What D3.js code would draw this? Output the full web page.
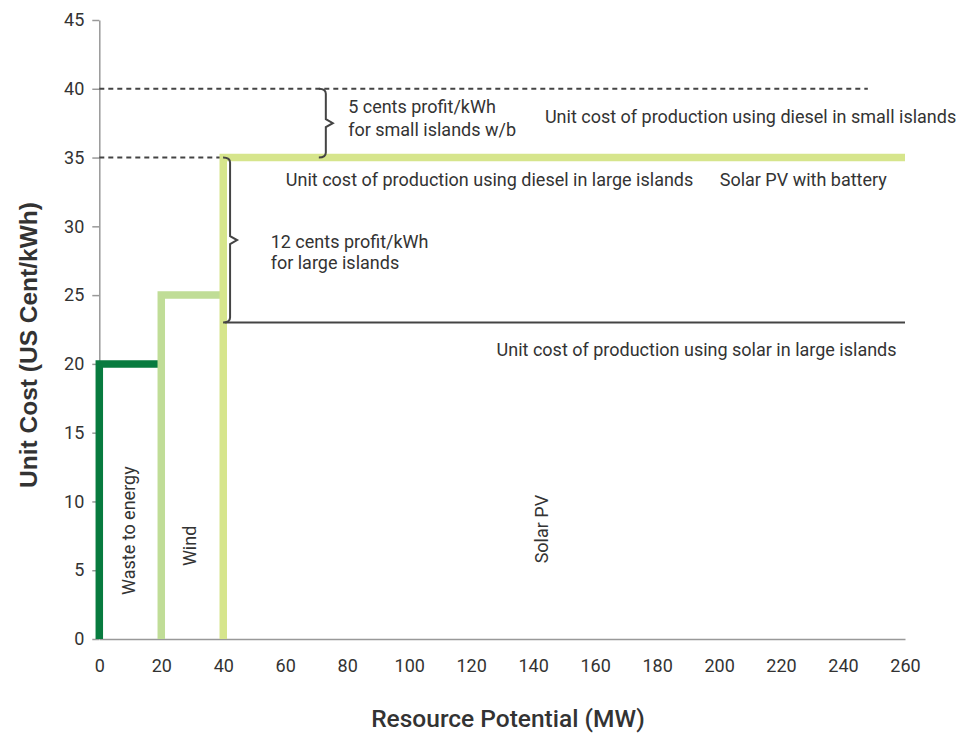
<!DOCTYPE html>
<meta charset="utf-8">
<title>Unit cost vs resource potential</title>
<style>
body {
  margin: 0px;
  background: #fff;
}
text {
  font-family: Roboto, sans-serif;
  fill: #333;
}
.axis .domain {
  stroke: #999;
  stroke-width: 1.5px;
}
.axis line {
  stroke: #999;
  stroke-width: 1.5px;
}
.axis text {
  font-size: 18px;
  fill: #333;
}
.note {
  font-size: 18px;
}
</style>
<body>
<script src="https://cdnjs.cloudflare.com/ajax/libs/d3/7.8.5/d3.min.js"></script>
<script>
var width = 959, height = 735;

// tick values
var xTicks = d3.range(0, 261, 20);
var yTicks = d3.range(0, 46, 5);

// supply steps (MW, cents/kWh)
var wasteLine = [[0, 0], [0, 20], [20, 20]];
var windLine = [[20, 0], [20, 25], [40, 25]];
var solarLine = [[40, 0], [40, 35], [260, 35]];

// reference costs
var solarLargeLine = [[40.5, 23], [260, 23]];
var dieselSmallLine = [[0, 40], [248, 40]];
var dieselLargeLine = [[0, 35], [40, 35]];

// braces: x position, bottom and top value
var braces = [
  {x: 73.1, y0: 35, y1: 40},
  {x: 42.2, y0: 23, y1: 35}
];

// annotation labels [x, y, text]
var notes = [
  [80.3, 38.24, "5 cents profit/kWh"],
  [80.3, 36.57, "for small islands w/b"],
  [143.8, 37.51, "Unit cost of production using diesel in small islands"],
  [60.2, 32.93, "Unit cost of production using diesel in large islands"],
  [200.2, 32.93, "Solar PV with battery"],
  [55.3, 28.42, "12 cents profit/kWh"],
  [55.3, 26.9, "for large islands"],
  [128.2, 20.57, "Unit cost of production using solar in large islands"]
];
// vertical labels [x, y, text]
var sideNotes = [
  [11.5, 3.2, "Waste to energy"],
  [31.2, 5.3, "Wind"],
  [144.7, 5.5, "Solar PV"]
];

var svg = d3.select("body").append("svg")
    .attr("width", width)
    .attr("height", height);

var x = d3.scaleLinear().domain([0, 260]).range([99.3, 905]);
var y = d3.scaleLinear().domain([0, 45]).range([639, 20]);

var line = d3.line()
    .x(function(d) { return x(d[0]); })
    .y(function(d) { return y(d[1]); });

// axes
svg.append("g")
    .attr("class", "axis")
    .attr("transform", "translate(0," + y(0) + ")")
    .call(d3.axisBottom(x).tickValues(xTicks).tickSize(0).tickSizeOuter(0).tickPadding(20));

svg.append("g")
    .attr("class", "axis")
    .attr("transform", "translate(" + x(0) + ",0)")
    .call(d3.axisLeft(y).tickValues(yTicks).tickSize(7).tickSizeOuter(0).tickPadding(8));

svg.selectAll(".axis text").attr("font-family", "Roboto, sans-serif");

// dashed diesel lines
svg.selectAll("path.dash")
    .data([dieselSmallLine, dieselLargeLine])
  .enter().append("path")
    .attr("class", "dash")
    .attr("d", line)
    .attr("fill", "none")
    .attr("stroke", "#444")
    .attr("stroke-width", 2)
    .attr("stroke-dasharray", "5,4");

// supply steps
var steps = [
  {pts: wasteLine, color: "#087b3f"},
  {pts: windLine, color: "#c0dd97"},
  {pts: solarLine, color: "#d6e58c"}
];
svg.selectAll("path.step")
    .data(steps)
  .enter().append("path")
    .attr("class", "step")
    .attr("d", function(d) { return line(d.pts); })
    .attr("fill", "none")
    .attr("stroke", function(d) { return d.color; })
    .attr("stroke-width", 7.5)
    .attr("stroke-linejoin", "miter");

// solar cost line
svg.append("path")
    .attr("d", line(solarLargeLine))
    .attr("fill", "none")
    .attr("stroke", "#444")
    .attr("stroke-width", 2);

// curly braces
function bracePath(b) {
  var sx = x(b.x), top = y(b.y1), bot = y(b.y0), mid = (top + bot) / 2;
  var w = 7, r = 5;
  return "M" + (sx - w) + "," + top +
    "Q" + sx + "," + top + " " + sx + "," + (top + r) +
    "L" + sx + "," + (mid - 4) +
    "L" + (sx + w) + "," + mid +
    "L" + sx + "," + (mid + 4) +
    "L" + sx + "," + (bot - r) +
    "Q" + sx + "," + bot + " " + (sx - w) + "," + bot;
}
svg.selectAll("path.brace")
    .data(braces)
  .enter().append("path")
    .attr("class", "brace")
    .attr("d", bracePath)
    .attr("fill", "none")
    .attr("stroke", "#444")
    .attr("stroke-width", 2);

// labels
svg.selectAll("text.note")
    .data(notes)
  .enter().append("text")
    .attr("class", "note")
    .attr("x", function(d) { return x(d[0]); })
    .attr("y", function(d) { return y(d[1]); })
    .text(function(d) { return d[2]; });

svg.selectAll("text.side")
    .data(sideNotes)
  .enter().append("text")
    .attr("class", "note side")
    .attr("transform", function(d) { return "translate(" + x(d[0]) + "," + y(d[1]) + ") rotate(-90)"; })
    .text(function(d) { return d[2]; });

// axis titles
svg.append("text")
    .attr("x", 508)
    .attr("y", 727)
    .attr("text-anchor", "middle")
    .style("font-size", "24.5px")
    .style("font-weight", 500)
    .text("Resource Potential (MW)");

svg.append("text")
    .attr("transform", "translate(37,345) rotate(-90)")
    .attr("text-anchor", "middle")
    .style("font-family", "'Liberation Sans', Arial, sans-serif")
    .style("font-size", "24.5px")
    .style("font-weight", "bold")
    .text("Unit Cost (US Cent/kWh)");
</script>
